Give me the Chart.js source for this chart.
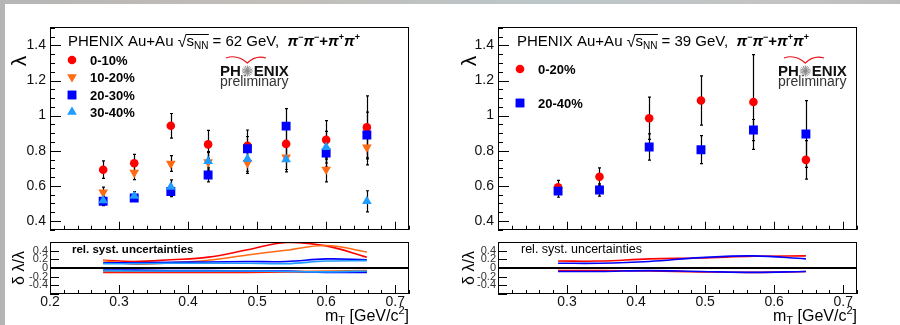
<!DOCTYPE html>
<html>
<head>
<meta charset="utf-8">
<script src="https://cdn.jsdelivr.net/npm/chart.js@4.4.0/dist/chart.umd.min.js"></script>
<style>
  body { margin: 0; width: 900px; height: 325px; position: relative; background: #fff; overflow: hidden; }
  .bgTop { position: absolute; left: 0; top: 0; width: 900px; height: 4px;
    background: linear-gradient(90deg, #b6b6b6, #c2bdb8 30%, #bcc6c9 60%, #c4c4c4 85%, #bdbdbd); }
  .bgLeft { position: absolute; left: 0; top: 0; width: 5px; height: 325px; background: #b5b5b5; }
  canvas { position: absolute; }
</style>
</head>
<body>
<div class="bgTop"></div>
<div class="bgLeft"></div>
<canvas id="main62" width="450" height="236" style="left:0;top:0"></canvas>
<canvas id="ratio62" width="450" height="89" style="left:0;top:236px"></canvas>
<canvas id="main39" width="450" height="236" style="left:450px;top:0"></canvas>
<canvas id="ratio39" width="450" height="89" style="left:450px;top:236px"></canvas>
<script>
// ---- data: 62 GeV ----
const mT62 = [0.277, 0.322, 0.375, 0.429, 0.486, 0.542, 0.600, 0.659];
const cent62 = ['0-10%', '10-20%', '20-30%', '30-40%'];
const lam62_0_10 = [0.692, 0.729, 0.942, 0.836, 0.828, 0.839, 0.862, 0.933];
const lam62_10_20 = [0.563, 0.675, 0.727, 0.735, 0.731, 0.763, 0.693, 0.819];
const lam62_20_30 = [0.512, 0.531, 0.568, 0.662, 0.811, 0.940, 0.787, 0.890];
const lam62_30_40 = [0.516, 0.542, 0.594, 0.740, 0.753, 0.750, 0.820, 0.512];
const err62_0_10 = [0.05, 0.05, 0.07, 0.08, 0.09, 0.10, 0.11, 0.18];
const err62_10_20 = [0.03, 0.04, 0.045, 0.06, 0.06, 0.07, 0.07, 0.10];
const err62_20_30 = [0.025, 0.02, 0.03, 0.04, 0.07, 0.10, 0.08, 0.13];
const err62_30_40 = [0.025, 0.025, 0.04, 0.05, 0.07, 0.07, 0.09, 0.06];
// relative systematic uncertainties (upper / lower)
const sysUp62_0_10 = [0.18, 0.15, 0.19, 0.25, 0.42, 0.59, 0.51, 0.25];
const sysUp62_10_20 = [0.17, 0.09, 0.12, 0.18, 0.30, 0.41, 0.52, 0.37];
const sysUp62_20_30 = [0.12, 0.12, 0.13, 0.14, 0.15, 0.15, 0.21, 0.19];
const sysUp62_30_40 = [0.10, 0.10, 0.11, 0.11, 0.11, 0.10, 0.16, 0.17];
const sysLo62_0_10 = [-0.10, -0.10, -0.10, -0.10, -0.10, -0.09, -0.09, -0.08];
const sysLo62_10_20 = [-0.08, -0.08, -0.08, -0.08, -0.08, -0.08, -0.07, -0.06];
const sysLo62_20_30 = [-0.05, -0.05, -0.06, -0.06, -0.07, -0.07, -0.10, -0.10];
const sysLo62_30_40 = [-0.06, -0.07, -0.07, -0.07, -0.07, -0.08, -0.09, -0.07];

// ---- data: 39 GeV ----
const mT39 = [0.287, 0.347, 0.419, 0.494, 0.570, 0.646];
const cent39 = ['0-20%', '20-40%'];
const lam39_0_20 = [0.591, 0.652, 0.985, 1.086, 1.078, 0.748];
const lam39_20_40 = [0.570, 0.576, 0.821, 0.806, 0.918, 0.895];
const err39_0_20 = [0.04, 0.05, 0.12, 0.14, 0.27, 0.11];
const err39_20_40 = [0.035, 0.035, 0.075, 0.08, 0.06, 0.19];
const sysUp39_0_20 = [0.16, 0.16, 0.21, 0.23, 0.27, 0.28];
const sysUp39_20_40 = [0.11, 0.11, 0.15, 0.24, 0.28, 0.21];
const sysLo39_0_20 = [-0.06, -0.06, -0.07, -0.09, -0.10, -0.08];
const sysLo39_20_40 = [-0.08, -0.08, -0.06, -0.08, -0.10, -0.08];

// ---- ticks ----
const xTicks62 = [0.2, 0.3, 0.4, 0.5, 0.6, 0.7];
const xTickLabels62 = ['0.2', '0.3', '0.4', '0.5', '0.6', '0.7'];
const xTicks39 = [0.3, 0.4, 0.5, 0.6, 0.7];
const xTickLabels39 = ['0.3', '0.4', '0.5', '0.6', '0.7'];
const yTicksMain = [0.4, 0.6, 0.8, 1, 1.2, 1.4];
const yTickLabelsMain = ['0.4', '0.6', '0.8', '1', '1.2', '1.4'];
const yTicksRatio = [-0.4, -0.2, 0, 0.2, 0.4];
const yTickLabelsRatio = ['-0.4', '-0.2', '0', '0.2', '0.4'];

const RED = '#ff0000', ORANGE = '#ff6a14', BLUE = '#0000ff', CYAN = '#1e9cff';
const FONT = '"Liberation Sans", Arial, sans-serif';

function pts(xs, ys) {
  return xs.map((x, i) => ({ x: x, y: ys[i] }));
}

// small marker painter for the legends (same shapes as Chart.js points)
function marker(ctx, style, x, y, r, rot, color) {
  ctx.fillStyle = color;
  ctx.beginPath();
  if (style === 'circle') {
    ctx.arc(x, y, r, 0, Math.PI * 2);
  } else if (style === 'rect') {
    const s = r * Math.SQRT1_2;
    ctx.rect(x - s, y - s, 2 * s, 2 * s);
  } else {
    for (let k = 0; k < 3; k++) {
      const a = rot * Math.PI / 180 + k * 2 * Math.PI / 3;
      const px = x + Math.sin(a) * r, py = y - Math.cos(a) * r;
      if (k === 0) ctx.moveTo(px, py); else ctx.lineTo(px, py);
    }
    ctx.closePath();
  }
  ctx.fill();
}

function drawRich(ctx, x, y, parts) {
  parts.forEach((p) => {
    ctx.font = p.f;
    ctx.fillText(p.t, x, y + (p.dy || 0));
    x += ctx.measureText(p.t).width;
  });
  return x;
}

function drawTitle(ctx, x, y, energy) {
  const f = '15px ' + FONT, fs = '10px ' + FONT;
  const fp = 'italic bold 15px ' + FONT, fb = 'bold 15px ' + FONT, fsup = 'bold 9px ' + FONT;
  ctx.fillStyle = '#000';
  ctx.textAlign = 'left';
  ctx.textBaseline = 'alphabetic';
  x = drawRich(ctx, x, y, [{ t: 'PHENIX Au+Au ', f: f }]);
  ctx.font = '16px ' + FONT;
  ctx.fillText('\u221A', x, y + 1);
  const sx = x + ctx.measureText('\u221A').width;
  const ex = drawRich(ctx, sx, y, [{ t: 's', f: f }, { t: 'NN', f: fs, dy: 3 }]);
  ctx.fillRect(sx - 0.5, y - 12, ex - sx + 1, 1);
  drawRich(ctx, ex, y, [
    { t: ' = ' + energy + ' GeV,  ', f: f },
    { t: '\u03C0', f: fp }, { t: '\u2212', f: fsup, dy: -6 },
    { t: '\u03C0', f: fp }, { t: '\u2212', f: fsup, dy: -6 },
    { t: '+', f: fb },
    { t: '\u03C0', f: fp }, { t: '+', f: fsup, dy: -6 },
    { t: '\u03C0', f: fp }, { t: '+', f: fsup, dy: -6 }
  ]);
}

function drawLogo(ctx, x0) {
  ctx.save();
  ctx.textAlign = 'left';
  ctx.textBaseline = 'alphabetic';
  ctx.fillStyle = '#111';
  ctx.font = 'bold 15px ' + FONT;
  ctx.fillText('PH', x0, 76);
  const w = ctx.measureText('PH').width;
  const cx = x0 + w + 6.5, cy = 71;
  ctx.fillText('ENIX', cx + 6.5, 76);
  ctx.strokeStyle = '#8a8a8a';
  ctx.lineWidth = 1;
  ctx.beginPath();
  for (let k = 0; k < 8; k++) {
    const a = k * Math.PI / 8;
    ctx.moveTo(cx - Math.cos(a) * 5.5, cy - Math.sin(a) * 5.5);
    ctx.lineTo(cx + Math.cos(a) * 5.5, cy + Math.sin(a) * 5.5);
  }
  ctx.stroke();
  ctx.strokeStyle = '#e8121a';
  ctx.lineWidth = 1.2;
  ctx.beginPath();
  ctx.moveTo(x0 + 6, 58);
  ctx.quadraticCurveTo(x0 + 17, 54, cx, 63);
  ctx.quadraticCurveTo(cx + 8, 55, x0 + 46, 58);
  ctx.stroke();
  ctx.fillStyle = '#333';
  ctx.font = '14px ' + FONT;
  ctx.fillText('preliminary', x0, 86);
  ctx.restore();
}

// ROOT style frame with inward ticks
const framePlugin = {
  id: 'frame',
  afterDraw(chart, args, o) {
    const { ctx, chartArea: a, scales: { x, y } } = chart;
    ctx.save();
    ctx.strokeStyle = '#000';
    ctx.lineWidth = 1;
    ctx.strokeRect(Math.round(a.left) + 0.5, Math.round(a.top) + 0.5,
      Math.round(a.right - a.left) - 1, Math.round(a.bottom - a.top) - 1);
    ctx.beginPath();
    const nx = Math.round(o.xMajor / o.xMinor);
    for (let k = Math.ceil(x.min / o.xMinor - 1e-6); k * o.xMinor <= x.max + 1e-9; k++) {
      const px = Math.round(x.getPixelForValue(k * o.xMinor)) + 0.5;
      const len = k % nx === 0 ? o.xMajorLen : o.xMinorLen;
      ctx.moveTo(px, a.bottom);
      ctx.lineTo(px, a.bottom - len);
    }
    const ny = Math.round(o.yMajor / o.yMinor);
    for (let k = Math.ceil(y.min / o.yMinor - 1e-6); k * o.yMinor <= y.max + 1e-9; k++) {
      const py = Math.round(y.getPixelForValue(k * o.yMinor)) + 0.5;
      const len = ((k % ny) + ny) % ny === 0 ? o.yMajorLen : o.yMinorLen;
      ctx.moveTo(a.left, py);
      ctx.lineTo(a.left + len, py);
    }
    ctx.stroke();
    ctx.restore();
  }
};

const errorBarPlugin = {
  id: 'errorBars',
  beforeDatasetsDraw(chart) {
    const { ctx, scales: { y } } = chart;
    ctx.save();
    ctx.strokeStyle = '#000';
    ctx.lineWidth = 1.2;
    chart.data.datasets.forEach((ds, i) => {
      if (!ds.errors) return;
      chart.getDatasetMeta(i).data.forEach((pt, j) => {
        const e = ds.errors[j];
        const px = Math.round(pt.x) + 0.5;
        const y1 = y.getPixelForValue(ds.data[j].y + e);
        const y2 = y.getPixelForValue(ds.data[j].y - e);
        ctx.beginPath();
        ctx.moveTo(px, y1); ctx.lineTo(px, y2);
        ctx.moveTo(px - 1.5, y1); ctx.lineTo(px + 1.5, y1);
        ctx.moveTo(px - 1.5, y2); ctx.lineTo(px + 1.5, y2);
        ctx.stroke();
      });
    });
    ctx.restore();
  }
};

function lambdaSet(label, xs, ys, errs, style, color, order) {
  const ds = {
    label: label, data: pts(xs, ys), errors: errs, order: order,
    pointStyle: style.shape, pointRadius: style.r, pointRotation: style.rot || 0,
    pointBackgroundColor: color, pointBorderColor: color, pointBorderWidth: 0,
    showLine: false
  };
  return ds;
}

function sysSet(xs, ys, color) {
  return {
    data: pts(xs, ys), showLine: true, borderColor: color, borderWidth: 1.6,
    pointRadius: 0, tension: 0.4, fill: false
  };
}

const SHAPES = {
  circle: { shape: 'circle', r: 4.3 },
  down: { shape: 'triangle', r: 5.6, rot: 180 },
  rect: { shape: 'rect', r: 6.3 },
  up: { shape: 'triangle', r: 5.6 }
};

function mainChart(id, datasets, o) {
  const textPlugin = {
    id: 'texts',
    afterDraw(chart) {
      const ctx = chart.ctx;
      ctx.save();
      drawTitle(ctx, o.titleX, 46, o.energy);
      o.legend.forEach((l) => {
        marker(ctx, l.s.shape, o.legX, l.y, l.s.r, l.s.rot || 0, l.c);
        ctx.fillStyle = '#000';
        ctx.font = 'bold 13px ' + FONT;
        ctx.textAlign = 'left';
        ctx.textBaseline = 'alphabetic';
        ctx.fillText(l.label, o.legX + 18, l.y + 5);
      });
      drawLogo(ctx, o.logoX);
      ctx.translate(20, 61);
      ctx.rotate(-Math.PI / 2);
      ctx.font = '21px ' + FONT;
      ctx.textAlign = 'center';
      ctx.textBaseline = 'middle';
      ctx.fillStyle = '#000';
      ctx.fillText('\u03BB', 0, 0);
      ctx.restore();
    }
  };
  return new Chart(document.getElementById(id), {
    type: 'scatter',
    data: { datasets: datasets },
    plugins: [errorBarPlugin, framePlugin, textPlugin],
    options: {
      responsive: false, animation: false, events: [],
      layout: { padding: { left: 0, right: o.padR, top: 27, bottom: 3 } },
      plugins: {
        legend: { display: false }, tooltip: { enabled: false },
        frame: { xMajor: 0.1, xMinor: 0.02, xMajorLen: 8, xMinorLen: 4,
                 yMajor: 0.2, yMinor: 0.05, yMajorLen: 11, yMinorLen: 5 }
      },
      scales: {
        x: {
          type: 'linear', min: 0.2, max: 0.72,
          grid: { display: false, drawTicks: false }, border: { display: false },
          ticks: { display: false },
          afterFit: (s) => { s.height = 0; s.paddingLeft = 0; s.paddingRight = 0; }
        },
        y: {
          min: 0.35, max: 1.505,
          grid: { display: false, drawTicks: false }, border: { display: false },
          ticks: {
            padding: 4, color: '#111', font: { family: FONT, size: 14 }, autoSkip: false,
            callback: (v) => yTickLabelsMain[yTicksMain.indexOf(v)]
          },
          afterBuildTicks: (s) => { s.ticks = yTicksMain.map((v) => ({ value: v })); },
          afterFit: (s) => { s.width = o.yw; s.paddingTop = 0; s.paddingBottom = 0; }
        }
      }
    }
  });
}

function ratioChart(id, datasets, o) {
  const ratioPlugin = {
    id: 'ratioTexts',
    beforeDatasetsDraw(chart) {
      const { ctx, chartArea: a, scales: { y } } = chart;
      ctx.save();
      ctx.fillStyle = '#000';
      ctx.font = o.labelFont;
      ctx.textAlign = 'left';
      ctx.textBaseline = 'alphabetic';
      ctx.fillText('rel. syst. uncertainties', o.labelX, 17);
      ctx.restore();
    },
    afterDatasetsDraw(chart) {
      const { ctx, chartArea: a, scales: { y } } = chart;
      ctx.save();
      const py = y.getPixelForValue(0);
      ctx.strokeStyle = '#000';
      ctx.lineWidth = 2.2;
      ctx.beginPath();
      ctx.moveTo(a.left, py);
      ctx.lineTo(a.right, py);
      ctx.stroke();
      ctx.restore();
    },
    afterDraw(chart) {
      const { ctx, chartArea: a } = chart;
      ctx.save();
      ctx.fillStyle = '#000';
      ctx.textBaseline = 'alphabetic';
      // m_T [GeV/c^2], right aligned to the frame
      const parts = [
        { t: 'm', f: '16px ' + FONT }, { t: 'T', f: '11px ' + FONT, dy: 3 },
        { t: ' [GeV/c', f: '16px ' + FONT }, { t: '2', f: '11px ' + FONT, dy: -7 },
        { t: ']', f: '16px ' + FONT }
      ];
      let w = 0;
      parts.forEach((p) => { ctx.font = p.f; w += ctx.measureText(p.t).width; });
      drawRich(ctx, a.right - w, 85, parts);
      ctx.translate(20, 32);
      ctx.rotate(-Math.PI / 2);
      ctx.font = '16px ' + FONT;
      ctx.textAlign = 'center';
      ctx.textBaseline = 'middle';
      ctx.fillText('\u03B4 \u03BB/\u03BB', 0, 0);
      ctx.restore();
    }
  };
  return new Chart(document.getElementById(id), {
    type: 'scatter',
    data: { datasets: datasets },
    plugins: [framePlugin, ratioPlugin],
    options: {
      responsive: false, animation: false, events: [],
      layout: { padding: { left: 0, right: o.padR, top: 6, bottom: 0 } },
      plugins: {
        legend: { display: false }, tooltip: { enabled: false },
        frame: { xMajor: 0.1, xMinor: 0.02, xMajorLen: 9, xMinorLen: 4,
                 yMajor: 0.2, yMinor: 0.2, yMajorLen: 9, yMinorLen: 9 }
      },
      scales: {
        x: {
          type: 'linear', min: 0.2, max: 0.72,
          grid: { display: false, drawTicks: false }, border: { display: false },
          ticks: {
            padding: 0, color: '#111', font: { family: FONT, size: 14 }, autoSkip: false, maxRotation: 0,
            callback: (v) => o.xLabels[o.xTicks.indexOf(v)]
          },
          afterBuildTicks: (s) => { s.ticks = o.xTicks.map((v) => ({ value: v })); },
          afterFit: (s) => { s.height = 31; s.paddingLeft = 0; s.paddingRight = 0; }
        },
        y: {
          min: -0.6, max: 0.6,
          grid: { display: false, drawTicks: false }, border: { display: false },
          ticks: {
            padding: 2, color: '#333', font: { family: FONT, size: 11 }, autoSkip: false,
            callback: (v) => yTickLabelsRatio[yTicksRatio.indexOf(v)]
          },
          afterBuildTicks: (s) => { s.ticks = yTicksRatio.map((v) => ({ value: v })); },
          afterFit: (s) => { s.width = o.yw; s.paddingTop = 0; s.paddingBottom = 0; }
        }
      }
    }
  });
}

// ---- 62 GeV ----
mainChart('main62', [
  lambdaSet(cent62[0], mT62, lam62_0_10, err62_0_10, SHAPES.circle, RED, 3),
  lambdaSet(cent62[1], mT62, lam62_10_20, err62_10_20, SHAPES.down, ORANGE, 2),
  lambdaSet(cent62[2], mT62, lam62_20_30, err62_20_30, SHAPES.rect, BLUE, 1),
  lambdaSet(cent62[3], mT62, lam62_30_40, err62_30_40, SHAPES.up, CYAN, 0)
], {
  yw: 50, padR: 41, energy: '62', titleX: 68, legX: 72, logoX: 220,
  legend: [
    { label: cent62[0], y: 60, s: SHAPES.circle, c: RED },
    { label: cent62[1], y: 77, s: SHAPES.down, c: ORANGE },
    { label: cent62[2], y: 95, s: SHAPES.rect, c: BLUE },
    { label: cent62[3], y: 112, s: SHAPES.up, c: CYAN }
  ]
});

ratioChart('ratio62', [
  sysSet(mT62, sysUp62_30_40, CYAN), sysSet(mT62, sysLo62_30_40, CYAN),
  sysSet(mT62, sysUp62_20_30, BLUE), sysSet(mT62, sysLo62_20_30, BLUE),
  sysSet(mT62, sysUp62_10_20, ORANGE), sysSet(mT62, sysLo62_10_20, ORANGE),
  sysSet(mT62, sysUp62_0_10, RED), sysSet(mT62, sysLo62_0_10, RED)
], {
  yw: 50, padR: 41, labelX: 72, labelFont: 'bold 11.5px ' + FONT,
  xTicks: xTicks62, xLabels: xTickLabels62
});

// ---- 39 GeV ----
mainChart('main39', [
  lambdaSet(cent39[0], mT39, lam39_0_20, err39_0_20, SHAPES.circle, RED, 1),
  lambdaSet(cent39[1], mT39, lam39_20_40, err39_20_40, SHAPES.rect, BLUE, 0)
], {
  yw: 48, padR: 43, energy: '39', titleX: 67, legX: 70, logoX: 328,
  legend: [
    { label: cent39[0], y: 69, s: SHAPES.circle, c: RED },
    { label: cent39[1], y: 103, s: SHAPES.rect, c: BLUE }
  ]
});

ratioChart('ratio39', [
  sysSet(mT39, sysUp39_20_40, BLUE), sysSet(mT39, sysLo39_20_40, BLUE),
  sysSet(mT39, sysUp39_0_20, RED), sysSet(mT39, sysLo39_0_20, RED)
], {
  yw: 48, padR: 43, labelX: 71, labelFont: '12.5px ' + FONT,
  xTicks: xTicks39, xLabels: xTickLabels39
});
</script>
</body>
</html>
